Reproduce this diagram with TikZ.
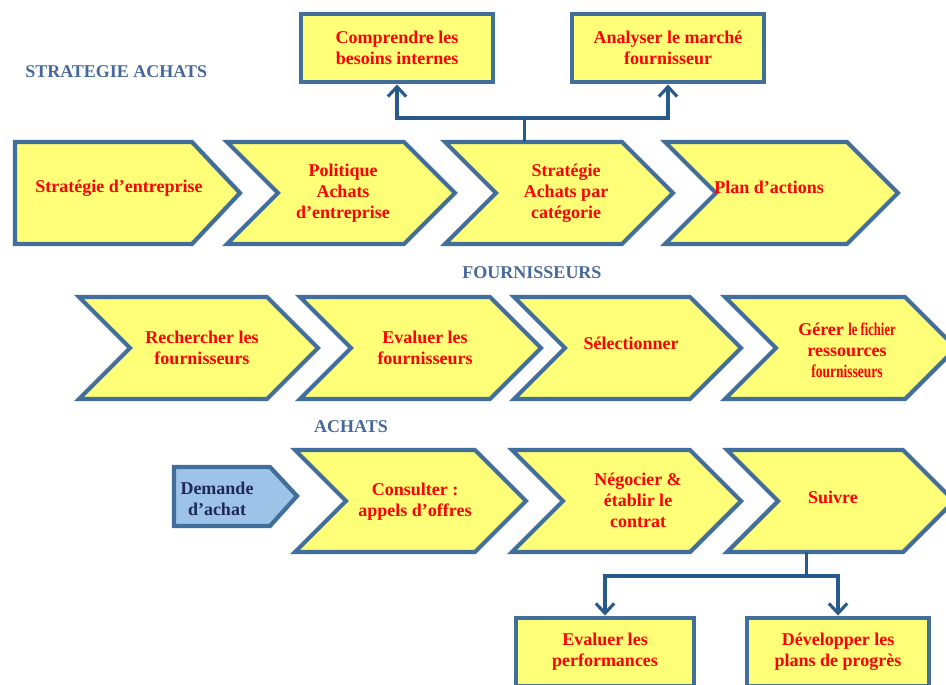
\documentclass[tikz,border=0pt]{standalone}
\usepackage{fontspec}
\usepackage{graphicx}
\setmainfont{Liberation Serif}
\usetikzlibrary{arrows.meta}

\definecolor{edgeblue}{RGB}{65,110,155}
\definecolor{linkblue}{RGB}{40,90,140}
\definecolor{stepyellow}{RGB}{255,255,120}
\definecolor{reqblue}{RGB}{158,195,232}
\definecolor{reqnavy}{RGB}{30,40,90}
\definecolor{headblue}{RGB}{70,105,155}

\tikzset{
  stepshape/.style={draw=edgeblue, line width=3pt, fill=stepyellow, line join=miter},
  steptext/.style={text=red, font=\fontsize{12.8}{15}\selectfont\bfseries, align=center, inner sep=0pt},
  taskbox/.style={steptext, draw=edgeblue, line width=3.5pt, fill=stepyellow, minimum width=4.8cm, minimum height=1.7cm},
  heading/.style={text=headblue, font=\fontsize{12.8}{15}\selectfont\bfseries, inner sep=0pt},
  link/.style={draw=linkblue, line width=2.2pt},
  uptip/.style={-{Straight Barb[length=7pt,width=13pt]}},
  pics/chevron/.style n args={4}{code={
    \draw[stepshape] (0,0) -- (#1,0) -- ++(51,51) -- ++(-51,51) -- (0,102) -- (51,51) -- cycle;
    \node[steptext] (-txt) at (#2,#3) {#4};
    \coordinate (-top) at ({0.45*#1},0);
    \coordinate (-bot) at ({0.45*#1},102);
  }},
}

\begin{document}
\begin{tikzpicture}[x=0.025cm, y=-0.025cm]
\useasboundingbox[fill=white] (0,0) rectangle (946,684);

% strategie achats
\node[heading, anchor=west] (hstrat) at (25,72) {STRATEGIE ACHATS};
\draw[stepshape] (15,142) -- (192,142) -- (240,193) -- (192,244) -- (15,244) -- cycle;
\node[steptext] (entr) at (119,188) {Stratégie d'entreprise};
\pic (pol) at (227,142) {chevron={177}{116}{51}{Politique\\Achats\\d'entreprise}};
\pic (cat) at (445,142) {chevron={177}{121}{51}{Stratégie\\Achats par\\catégorie}};
\pic (plan) at (665,142) {chevron={182}{104}{45}{Plan d'actions}};

\node[taskbox] (besoins) at (397,48) {Comprendre les\\besoins internes};
\node[taskbox] (marche) at (668,48) {Analyser le marché\\fournisseur};

\draw[link] (cat-top) -- ++(0,-24) coordinate (hub);
\draw[link, uptip] (hub) -| (besoins.south);
\draw[link, uptip] (hub) -| (marche.south);

% fournisseurs
\node[heading] (hfourn) at (532,273) {FOURNISSEURS};
\pic (rech) at (79,297) {chevron={188}{123}{51}{Rechercher les\\fournisseurs}};
\pic (eval) at (300,297) {chevron={190}{125}{51}{Evaluer les\\fournisseurs}};
\pic (sel) at (514,297) {chevron={176}{117}{46}{Sélectionner}};
\pic (fich) at (725,297) {chevron={180}{122}{53}{Gérer \scalebox{0.7}[1]{le fichier}\\ressources\\\scalebox{0.75}[1]{fournisseurs}}};

% achats
\node[heading] (hach) at (351,427) {ACHATS};
\draw[stepshape, fill=reqblue] (174,467) -- (270,467) -- (297,496) -- (270,526) -- (174,526) -- cycle;
\node[steptext, text=reqnavy] (dem) at (217,499) {Demande\\d'achat};
\pic (cons) at (295,450) {chevron={180}{120}{52}{Consulter :\\appels d'offres}};
\pic (neg) at (512,450) {chevron={178}{126}{50}{Négocier \&\\établir le\\contrat}};
\pic (suiv) at (727,450) {chevron={176}{106}{47}{Suivre}};

\node[taskbox, minimum width=4.45cm] (perf) at (605,652) {Evaluer les\\performances};
\node[taskbox, minimum width=4.55cm] (prog) at (838,652) {Développer les\\plans de progrès};

\draw[link] (suiv-bot) -- ++(0,24) coordinate (hub2);
\draw[link, uptip] (hub2) -| (perf.north);
\draw[link, uptip] (hub2) -| (prog.north);
\end{tikzpicture}
\end{document}
